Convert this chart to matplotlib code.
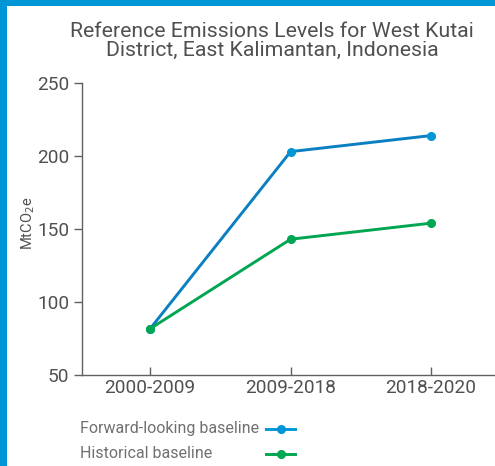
import matplotlib.pyplot as plt
from matplotlib.lines import Line2D
from matplotlib.patches import Rectangle

periods = ['2000-2009', '2009-2018', '2018-2020']
forward_looking = [81.7, 203, 214]
historical = [81.7, 143, 154]
y_ticks = [50, 100, 150, 200, 250]

blue_line = '#0A80C2'
blue_dot = '#0096D6'
green = '#00A651'
grey = '#505050'

plt.rcParams['font.family'] = ['Roboto', 'DejaVu Sans']

fig = plt.figure(figsize=(4.95, 4.66), dpi=100)
fig.patch.set_facecolor('white')

# blue frame on the top and left edges
fig.add_artist(Rectangle((0, 1 - 6 / 466), 1, 6 / 466, transform=fig.transFigure,
                         color=blue_dot, lw=0))
fig.add_artist(Rectangle((0, 0), 7 / 495, 1, transform=fig.transFigure,
                         color=blue_dot, lw=0))

ax = fig.add_axes([82 / 495, (466 - 375) / 466, (495 - 82) / 495, (375 - 83) / 466])
x = list(range(len(periods)))
ax.plot(x, forward_looking, color=blue_line, lw=2.1, zorder=3,
        marker='o', ms=5.5, mfc=blue_dot, mec=blue_dot)
ax.plot(x, historical, color=green, lw=2.1, zorder=4,
        marker='o', ms=5.5, mfc=green, mec=green)

ax.set_xlim(-0.485, 2.455)
ax.set_ylim(50, 250)
ax.set_yticks(y_ticks)
ax.set_xticks(x)
ax.set_xticklabels(periods)
for s in ['top', 'right']:
    ax.spines[s].set_visible(False)
for s in ['left', 'bottom']:
    ax.spines[s].set_color('#606060')
    ax.spines[s].set_linewidth(1.0)
ax.tick_params(axis='y', direction='out', length=6, width=1, color='#606060',
               labelsize=13.7, labelcolor=grey, pad=3)
ax.tick_params(axis='x', direction='in', length=6, width=1, color='#606060',
               labelsize=13.7, labelcolor=grey, pad=3)
ax.set_ylabel('MtCO$_2$e', fontsize=10.5, color=grey)
ax.yaxis.set_label_coords(-0.11, 0.52)

fig.text(272 / 495, 1 - 41 / 466, 'Reference Emissions Levels for West Kutai\nDistrict, East Kalimantan, Indonesia',
         ha='center', va='center', fontsize=15.3, color=grey, linespacing=0.95)

# legend: label first, sample line after
legend_items = [('Forward-looking baseline', blue_dot), ('Historical baseline', green)]
for i, (label, c) in enumerate(legend_items):
    yy = 1 - (429 + 25 * i) / 466
    fig.text(80 / 495, yy, label, ha='left', va='center', fontsize=11.5, color='#707070')
    fig.add_artist(Line2D([266 / 495, 295 / 495], [yy, yy], transform=fig.transFigure,
                          color=c, lw=2.1))
    fig.add_artist(Line2D([280.5 / 495], [yy], transform=fig.transFigure,
                          marker='o', ms=5.5, color=c))

fig.savefig('out.png', dpi=100)
